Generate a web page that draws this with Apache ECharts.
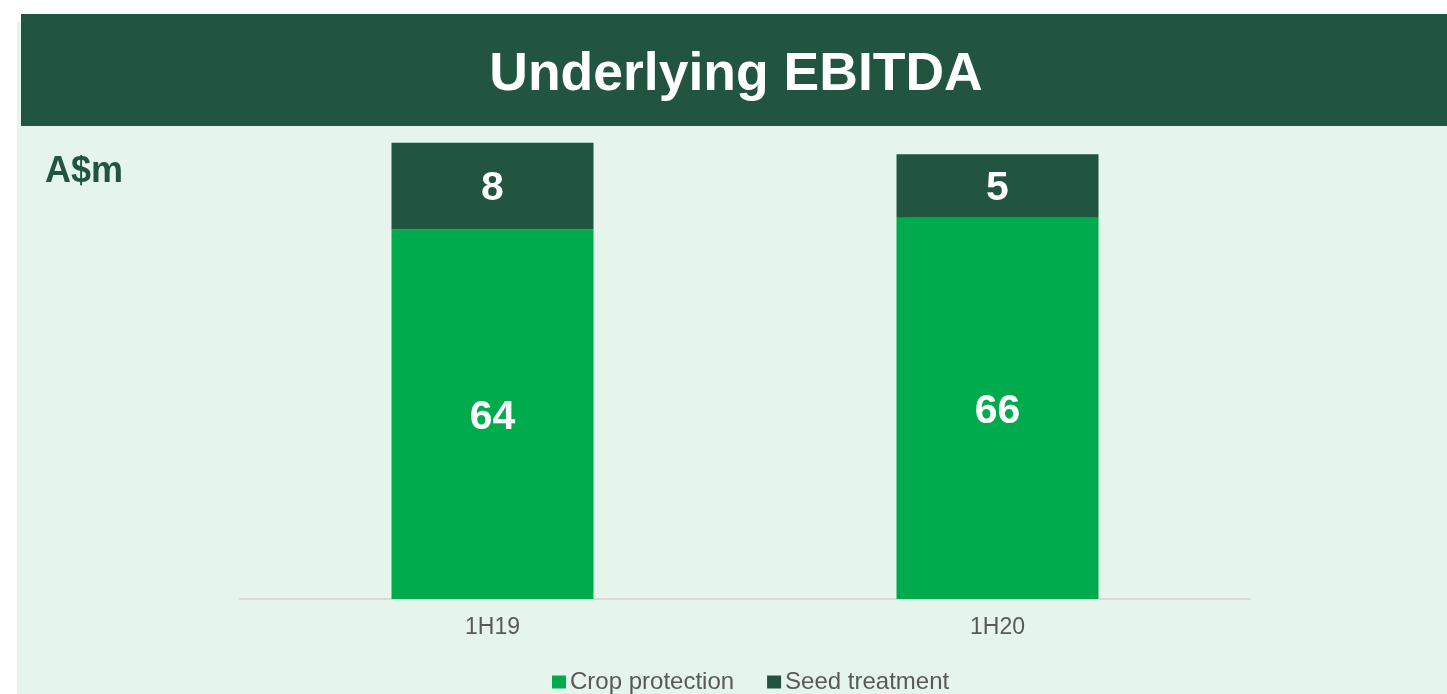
<!DOCTYPE html>
<html>
<head>
<meta charset="utf-8">
<script src="https://cdn.jsdelivr.net/npm/echarts@6/dist/echarts.min.js"></script>
<style>
html,body{margin:0;padding:0;background:#ffffff;}
#chart{width:1447px;height:694px;}
</style>
</head>
<body>
<div id="chart"></div>
<script>
// ---- data ----
const categories = ['1H19', '1H20'];
const seriesNames = ['Crop protection', 'Seed treatment'];
const cropProtection = [64, 66];
// Seed treatment: values as labelled in the reference
const seedTreatmentLabels = [8, 5];
// Seed treatment: segment heights as drawn in the reference (not to scale with labels)
const seedTreatmentDrawn = [15, 11];
const titleText = 'Underlying EBITDA';
const unitText = 'A$m';

const FONT = '"Liberation Sans", Arial, sans-serif';
const DARK = '#21553F';
const GREEN = '#00AB4E';
const BG = '#E5F5EC';

const chart = echarts.init(document.getElementById('chart'), null, {renderer: 'canvas'});
chart.setOption({
  backgroundColor: '#ffffff',
  animation: false,
  graphic: [
    {type: 'rect', z: -10, shape: {x: 17, y: 22, width: 1430, height: 672}, style: {fill: BG}},
    {type: 'rect', z: -9, shape: {x: 21, y: 14, width: 1426, height: 112}, style: {fill: DARK}}
  ],
  title: [
    {
      text: titleText, left: 731, top: 70, textAlign: 'center', textVerticalAlign: 'middle',
      textStyle: {color: '#ffffff', fontFamily: FONT, fontWeight: 'bold', fontSize: 53.5}
    },
    {
      text: unitText, left: 40, top: 149,
      textStyle: {color: DARK, fontFamily: FONT, fontWeight: 'bold', fontSize: 36}
    }
  ],
  legend: {
    data: seriesNames,
    left: 547, top: 665,
    icon: 'rect', itemWidth: 14, itemHeight: 13, itemGap: 33,
    textStyle: {color: '#595959', fontFamily: FONT, fontSize: 24, padding: [0, 0, 0, -1]}
  },
  grid: {left: 240, right: 197, top: 137, bottom: 95},
  xAxis: {
    type: 'category', data: categories,
    axisLine: {show: true, lineStyle: {color: '#D9D9D9', width: 2}},
    axisTick: {show: false},
    axisLabel: {color: '#595959', fontFamily: FONT, fontSize: 23, margin: 17}
  },
  yAxis: {type: 'value', min: 0, max: 80, show: false, splitLine: {show: false}},
  series: [
    {
      name: seriesNames[0], type: 'bar', stack: 'total', barWidth: '40%',
      data: cropProtection,
      itemStyle: {color: GREEN},
      label: {show: true, position: 'inside', offset: [0, 3], color: '#ffffff', fontFamily: FONT, fontWeight: 'bold', fontSize: 41}
    },
    {
      name: seriesNames[1], type: 'bar', stack: 'total', barWidth: '40%',
      data: seedTreatmentDrawn,
      itemStyle: {color: DARK},
      label: {
        show: true, position: 'inside', offset: [0, 3], color: '#ffffff', fontFamily: FONT, fontWeight: 'bold', fontSize: 41,
        formatter: p => String(seedTreatmentLabels[p.dataIndex])
      }
    }
  ]
});
</script>
</body>
</html>
